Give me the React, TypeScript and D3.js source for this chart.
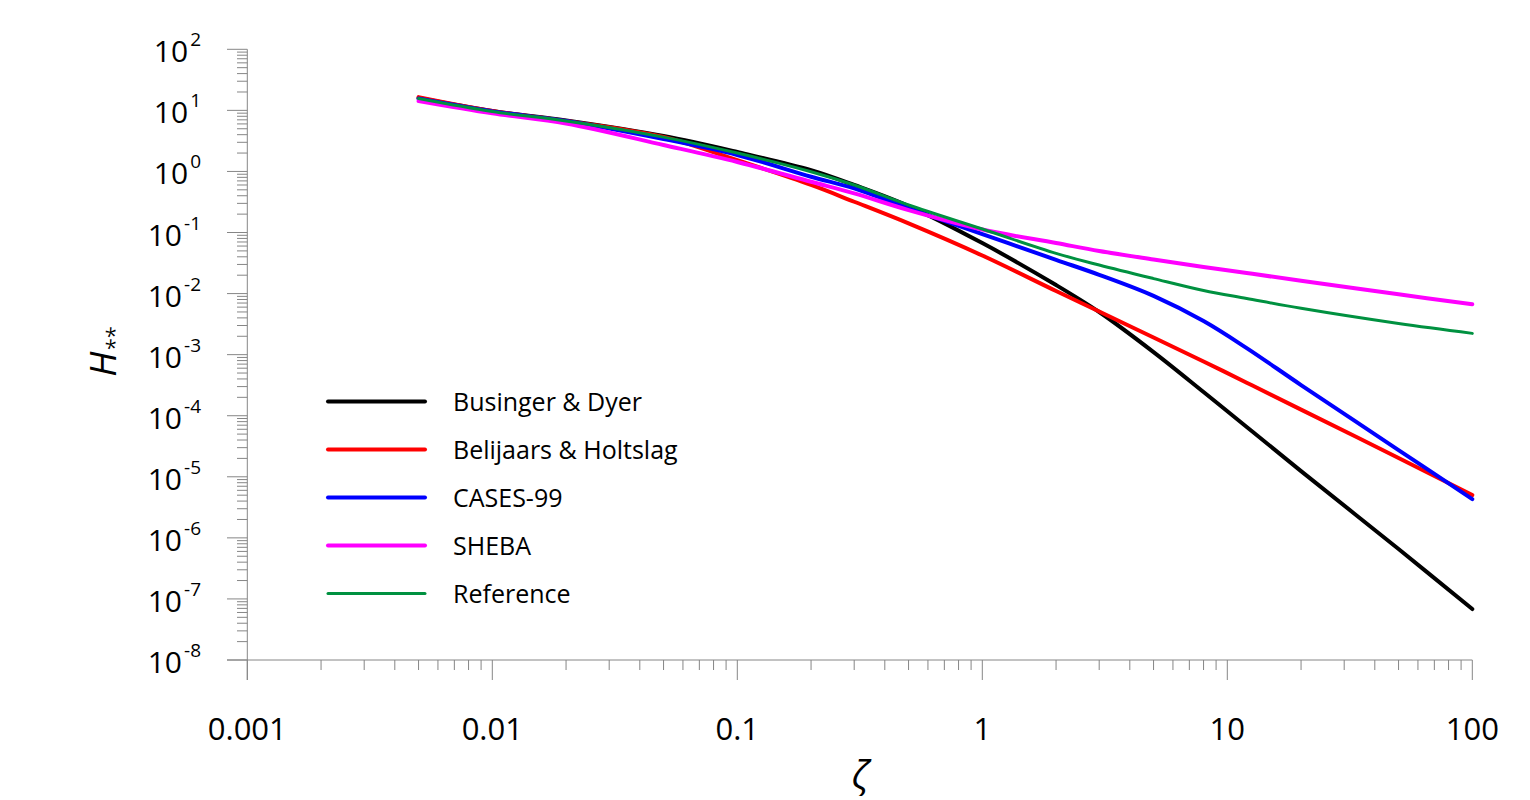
import React from "react";
import * as d3 from "d3";

const zeta = [0.005, 0.01, 0.02, 0.05, 0.1, 0.2, 0.3, 0.5, 1, 2, 3, 5, 8, 12, 20, 50, 100];
const busingerDyer = [15.9, 9.75, 6.81, 3.8, 2.08, 1.05, 0.6, 0.271, 0.0671, 0.0138, 0.00499, 1.1e-3, 2.44e-4, 6.53e-5, 1.24e-5, 6.56e-7, 6.83e-8];
const beljaarsHoltslag = [16.5, 9.75, 6.69, 3.66, 1.53, 0.6, 0.319, 0.141, 0.042, 0.011, 0.00508, 0.00191, 7.74e-4, 3.47e-4, 1.26e-4, 2.03e-5, 5.02e-6];
const cases99 = [15.6, 9.6, 6.7, 3.4, 1.86, 0.819, 0.529, 0.249, 0.0944, 0.0357, 0.0203, 0.00918, 3.55e-3, 1.28e-3, 3.18e-4, 2.74e-5, 4.32e-6];
const sheba = [14.2, 8.93, 6.09, 2.71, 1.43, 0.678, 0.438, 0.233, 0.1119, 0.0673, 0.0498, 0.0361, 0.0272, 0.0217, 0.0162, 0.00972, 0.00667];
const reference = [15.6, 9.57, 6.69, 3.65, 2.0, 0.989, 0.599, 0.282, 0.114, 0.0456, 0.0293, 0.0176, 0.01122, 0.0083, 0.00573, 0.00323, 0.00223];

const seriesNames = ["Businger & Dyer", "Belijaars & Holtslag", "CASES-99", "SHEBA", "Reference"];
const seriesValues = [busingerDyer, beljaarsHoltslag, cases99, sheba, reference];
const seriesColors = ["#000000", "#ff0000", "#0000ff", "#ff00ff", "#009140"];
const seriesWidths = [4, 4, 4, 4, 3];

const xTickValues = [0.001, 0.01, 0.1, 1, 10, 100];
const xTickLabels = ["0.001", "0.01", "0.1", "1", "10", "100"];
const yExponents = [2, 1, 0, -1, -2, -3, -4, -5, -6, -7, -8];

const FONT = "'Open Sans', 'Noto Sans', sans-serif";
const AXIS = "#868686";

export default function App() {
  const x = d3.scaleLog().domain([0.001, 100]).range([247.3, 1472.3]);
  const y = d3.scaleLog().domain([1e-8, 1e2]).range([660, 49.3]);

  const line = d3
    .line<[number, number]>()
    .x((d) => x(d[0]))
    .y((d) => y(d[1]))
    .curve(d3.curveCatmullRom.alpha(0.5));

  const xMinor: number[] = [];
  for (let e = -3; e < 2; e++) for (let k = 2; k <= 9; k++) xMinor.push(k * Math.pow(10, e));
  const yMinor: number[] = [];
  for (let e = -8; e < 2; e++) for (let k = 2; k <= 9; k++) yMinor.push(k * Math.pow(10, e));

  const legendY = [401.5, 449.5, 497.5, 545.5, 593.5];

  return (
    <svg
      width={1530}
      height={800}
      style={{ position: "absolute", left: 0, top: 0, background: "#fff" }}
      fontFamily={FONT}
    >
      <rect width={1530} height={800} fill="#fff" />
      {/* axes */}
      <line x1={x(0.001)} x2={x(0.001)} y1={y(100)} y2={680} stroke={AXIS} strokeWidth={1} />
      <line x1={227} x2={x(100)} y1={y(1e-8)} y2={y(1e-8)} stroke={AXIS} strokeWidth={1} />
      {yExponents.map((e) => (
        <line key={"ym" + e} x1={227} x2={x(0.001)} y1={y(Math.pow(10, e))} y2={y(Math.pow(10, e))} stroke={AXIS} />
      ))}
      {yMinor.map((v, i) => (
        <line key={"yn" + i} x1={237} x2={x(0.001)} y1={y(v)} y2={y(v)} stroke={AXIS} />
      ))}
      {xTickValues.map((v) => (
        <line key={"xm" + v} x1={x(v)} x2={x(v)} y1={660} y2={680} stroke={AXIS} />
      ))}
      {xMinor.map((v, i) => (
        <line key={"xn" + i} x1={x(v)} x2={x(v)} y1={660} y2={670} stroke={AXIS} />
      ))}
      {/* x tick labels */}
      {xTickValues.map((v, i) => (
        <text key={"xl" + v} x={x(v)} y={740} fontSize={31} textAnchor="middle" fill="#000">
          {xTickLabels[i]}
        </text>
      ))}
      {/* y tick labels */}
      {yExponents.map((e) => (
        <text key={"yl" + e} x={201} y={y(Math.pow(10, e)) + 13} fontSize={30} textAnchor="end" fill="#000">
          10
          <tspan dx={2} dy={-16} fontSize={19}>
            {e < 0 ? "-" + Math.abs(e) : String(e)}
          </tspan>
        </text>
      ))}
      {/* axis titles */}
      <text
        transform="translate(116,352) rotate(-90)"
        textAnchor="middle"
        fontSize={37}
        fontStyle="italic"
        fill="#000"
      >
        H
        <tspan fontSize={22} dy={6}>**</tspan>
      </text>
      <text x={860} y={788} textAnchor="middle" fontSize={38} fontStyle="italic" fill="#000">
        ζ
      </text>
      {/* series */}
      {seriesValues.map((vals, i) => (
        <path
          key={"s" + i}
          d={line(zeta.map((z, j) => [z, vals[j]] as [number, number])) || ""}
          fill="none"
          stroke={seriesColors[i]}
          strokeWidth={seriesWidths[i]}
          strokeLinecap="round"
          strokeLinejoin="round"
        />
      ))}
      {/* legend */}
      {seriesNames.map((n, i) => (
        <g key={"lg" + i}>
          <line
            x1={328}
            x2={425}
            y1={legendY[i]}
            y2={legendY[i]}
            stroke={seriesColors[i]}
            strokeWidth={seriesWidths[i]}
            strokeLinecap="round"
          />
          <text x={453} y={legendY[i] + 9} fontSize={25} fill="#000">
            {n}
          </text>
        </g>
      ))}
    </svg>
  );
}
